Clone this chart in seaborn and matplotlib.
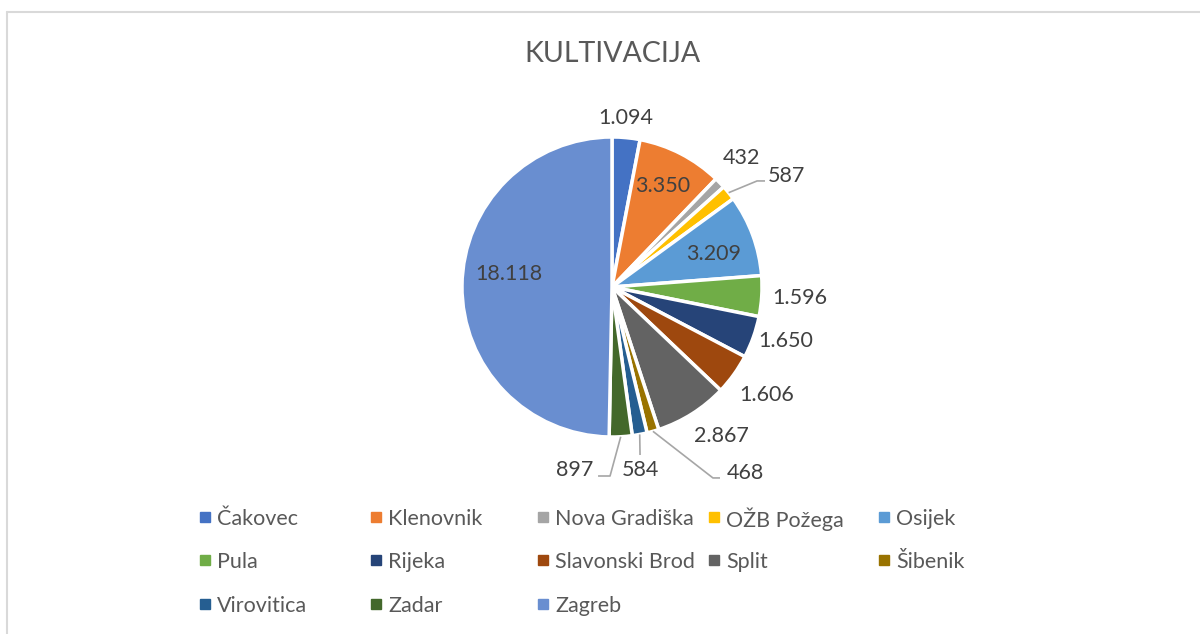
import numpy as np
import matplotlib
matplotlib.use("Agg")
import matplotlib.pyplot as plt
import seaborn as sns
from matplotlib.lines import Line2D

# data
bolnice = ["Čakovec", "Klenovnik", "Nova Gradiška", "OŽB Požega", "Osijek",
           "Pula", "Rijeka", "Slavonski Brod", "Split", "Šibenik",
           "Virovitica", "Zadar", "Zagreb"]
kultivacija = [1094, 3350, 432, 587, 3209, 1596, 1650, 1606, 2867, 468, 584, 897, 18118]

boje = ["#4472C4", "#ED7D31", "#A5A5A5", "#FFC000", "#5B9BD5", "#70AD47",
        "#264478", "#9E480E", "#636363", "#997300", "#255E91", "#43682B", "#698ED0"]

sns.set_theme(style="white")
plt.rcParams["font.family"] = ["Lato", "DejaVu Sans"]
txt = "#595959"

# label placement (pie radius units) - offsets from centre
lab_xy = {
    0: (0.09, 1.13), 1: (0.34, 0.67), 2: (0.86, 0.86), 3: (1.16, 0.74),
    4: (0.68, 0.22), 5: (1.25, -0.07), 6: (1.16, -0.36), 7: (1.03, -0.72),
    8: (0.73, -0.99), 9: (0.89, -1.24), 10: (0.19, -1.22), 11: (-0.25, -1.22),
    12: (-0.69, 0.09),
}
# leader lines for small slices (elbow points)
leaders = {
    3: [(0.967, 0.707), (1.02, 0.707)],
    9: [(0.673, -1.273), (0.72, -1.273)],
    10: [(0.187, -1.12)],
    11: [(-0.013, -1.26), (-0.093, -1.26)],
}

fig = plt.figure(figsize=(12, 6.34), dpi=100)
ax = fig.add_axes([(612 - 200) / 1200, (634 - 287 - 200) / 634, 400 / 1200, 400 / 634])

wedges, _ = ax.pie(kultivacija, colors=boje, startangle=90, counterclock=False,
                   radius=1.0, wedgeprops=dict(edgecolor="white", linewidth=2.5))
ax.set_xlim(-4 / 3, 4 / 3)
ax.set_ylim(-4 / 3, 4 / 3)
ax.axis("off")

for i, (w, v) in enumerate(zip(wedges, kultivacija)):
    mid = np.deg2rad((w.theta1 + w.theta2) / 2)
    x, y = lab_xy[i]
    ax.text(x, y, f"{v:,}".replace(",", "."), ha="center", va="center",
            fontsize=15.5, color="#404040")
    if i in leaders:
        pts = [(np.cos(mid) * 1.0, np.sin(mid) * 1.0)] + leaders[i]
        xs, ys = zip(*pts)
        ax.plot(xs, ys, color="#A6A6A6", lw=1.2, solid_capstyle="butt")

fig.text(0.51, 1 - 54 / 634, "KULTIVACIJA", ha="center", va="center",
         fontsize=20.5, color=txt)

# legend: rows filled first (Excel style), fixed column grid
col_x = [205, 376, 543, 714, 884]
row_y = [517, 560, 604]
for i, naziv in enumerate(bolnice):
    r, c = divmod(i, 5)
    fx = col_x[c] / 1200
    fy = 1 - row_y[r] / 634
    fig.add_artist(Line2D([fx], [fy], marker="s", ls="", markersize=6.5,
                          color=boje[i], transform=fig.transFigure))
    fig.text(fx + 12 / 1200, fy, naziv, ha="left", va="center_baseline",
             fontsize=15.5, color=txt)

# chart area border (top and left visible)
fig.add_artist(Line2D([6.5 / 1200, 1], [1 - 11.5 / 634] * 2, color="#D9D9D9", lw=1.5,
                      transform=fig.transFigure))
fig.add_artist(Line2D([6.5 / 1200] * 2, [0, 1 - 11.5 / 634], color="#D9D9D9", lw=1.5,
                      transform=fig.transFigure))

fig.savefig("out.png", dpi=100, facecolor="white")
